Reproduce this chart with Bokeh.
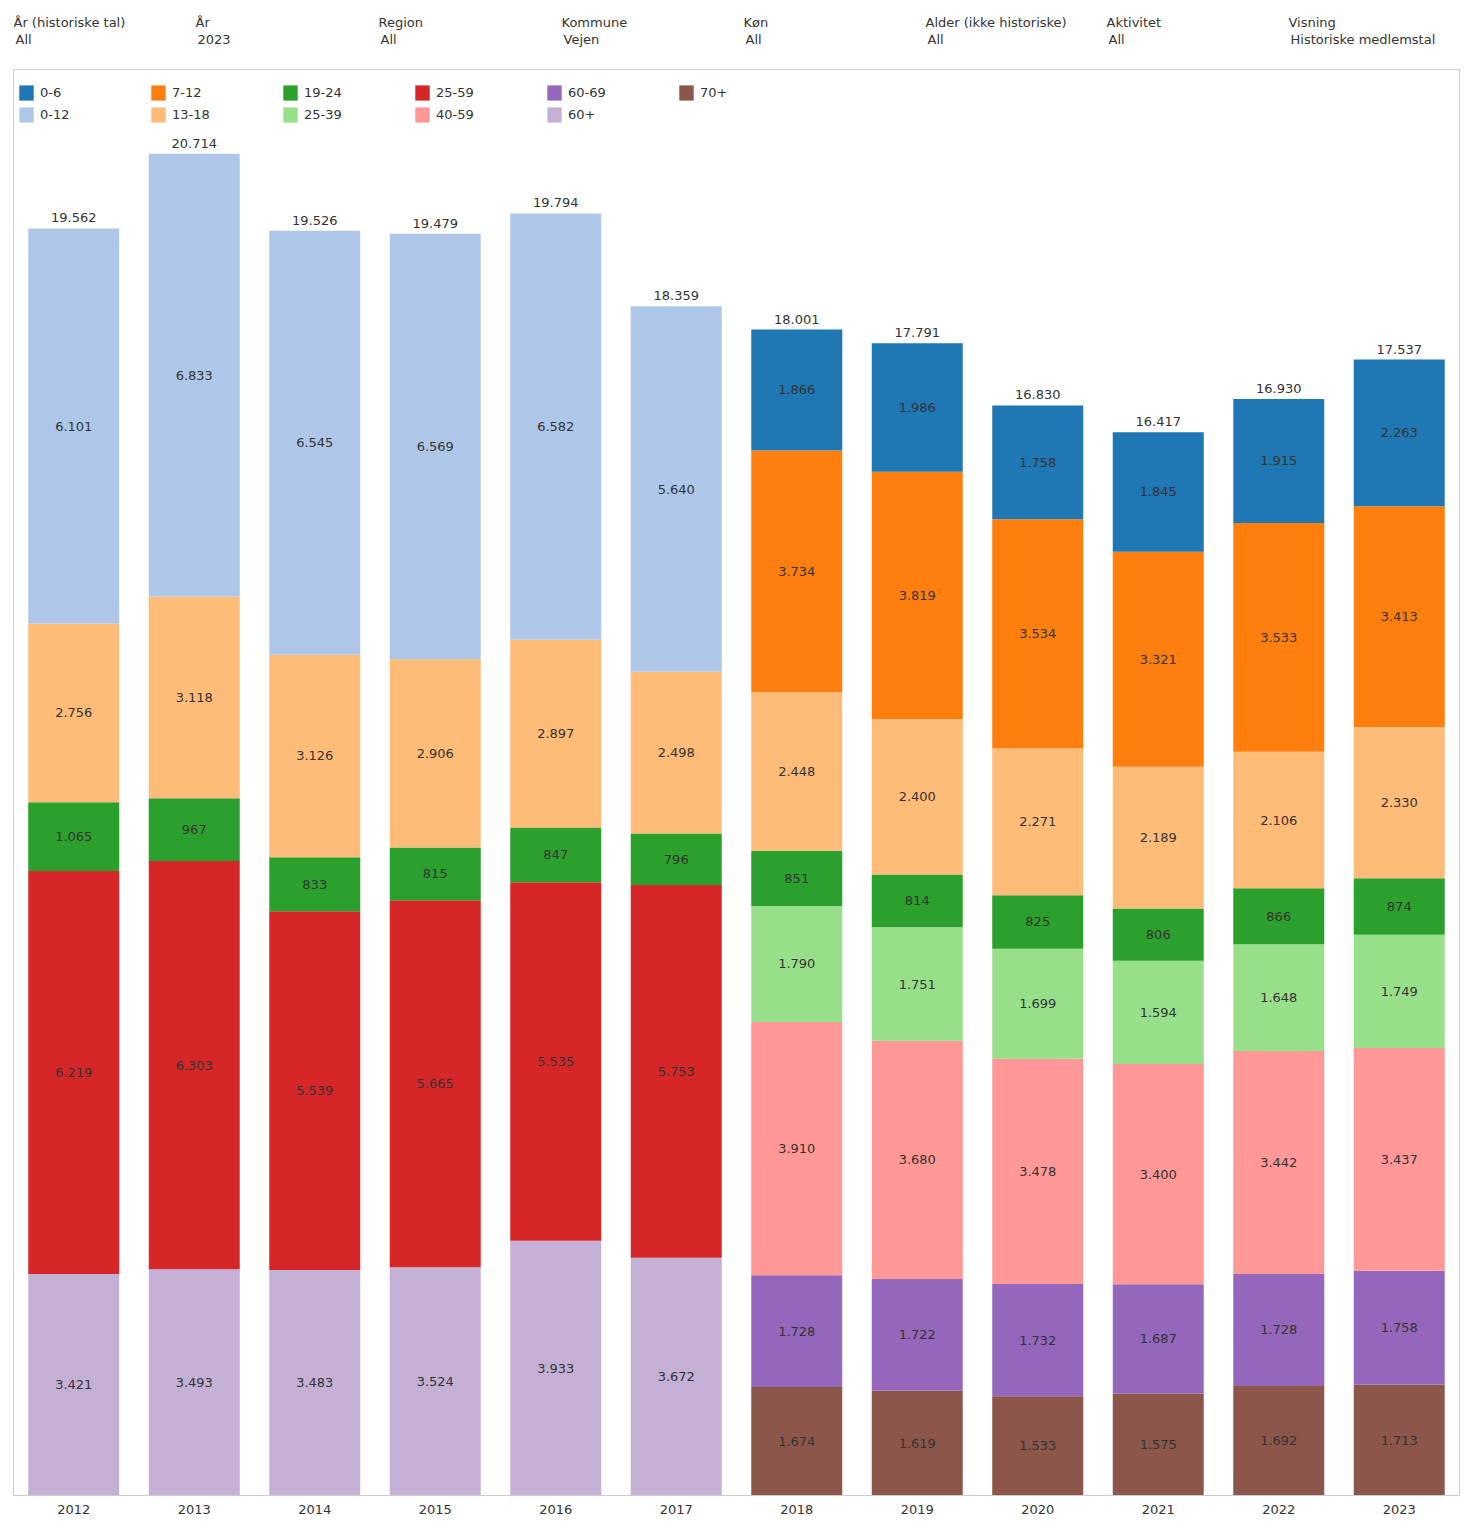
from bokeh.plotting import figure
from bokeh.models import ColumnDataSource, Range1d, FactorRange, Legend, LegendItem
from bokeh.layouts import column
from bokeh.core.properties import value
from bokeh.embed import file_html
from bokeh.resources import INLINE

years = ["2012", "2013", "2014", "2015", "2016", "2017",
         "2018", "2019", "2020", "2021", "2022", "2023"]

# series values (0 where the age group is not used that year)
s_70p   = [0, 0, 0, 0, 0, 0, 1674, 1619, 1533, 1575, 1692, 1713]
s_60_69 = [0, 0, 0, 0, 0, 0, 1728, 1722, 1732, 1687, 1728, 1758]
s_60p   = [3421, 3493, 3483, 3524, 3933, 3672, 0, 0, 0, 0, 0, 0]
s_40_59 = [0, 0, 0, 0, 0, 0, 3910, 3680, 3478, 3400, 3442, 3437]
s_25_39 = [0, 0, 0, 0, 0, 0, 1790, 1751, 1699, 1594, 1648, 1749]
s_25_59 = [6219, 6303, 5539, 5665, 5535, 5753, 0, 0, 0, 0, 0, 0]
s_19_24 = [1065, 967, 833, 815, 847, 796, 851, 814, 825, 806, 866, 874]
s_13_18 = [2756, 3118, 3126, 2906, 2897, 2498, 2448, 2400, 2271, 2189, 2106, 2330]
s_7_12  = [0, 0, 0, 0, 0, 0, 3734, 3819, 3534, 3321, 3533, 3413]
s_0_6   = [0, 0, 0, 0, 0, 0, 1866, 1986, 1758, 1845, 1915, 2263]
s_0_12  = [6101, 6833, 6545, 6569, 6582, 5640, 0, 0, 0, 0, 0, 0]

filter_titles = ["År (historiske tal)", "År", "Region", "Kommune", "Køn",
                 "Alder (ikke historiske)", "Aktivitet", "Visning"]
filter_values = ["All", "2023", "All", "Vejen", "All", "All", "All",
                 "Historiske medlemstal"]

# stacking order bottom -> top
stack_keys = ["70+", "60-69", "60+", "40-59", "25-39", "25-59",
              "19-24", "13-18", "7-12", "0-6", "0-12"]
stack_vals = [s_70p, s_60_69, s_60p, s_40_59, s_25_39, s_25_59,
              s_19_24, s_13_18, s_7_12, s_0_6, s_0_12]
colors = {"0-6": "#1f77b4", "0-12": "#aec7e8", "7-12": "#ff7f0e", "13-18": "#ffbb78",
          "19-24": "#2ca02c", "25-39": "#98df8a", "25-59": "#d62728", "40-59": "#ff9896",
          "60-69": "#9467bd", "60+": "#c5b0d5", "70+": "#8c564b"}
legend_order = ["0-6", "0-12", "7-12", "13-18", "19-24", "25-39",
                "25-59", "40-59", "60-69", "60+", "70+"]

FONT = "DejaVu Sans"
TXT = "#333333"


def fmt(v):
    return f"{v:,}".replace(",", ".")


data = {"year": years}
for k, v in zip(stack_keys, stack_vals):
    data[k] = v
src = ColumnDataSource(data)

# ---------- header (frame aligned with the chart frame: page x 13..1459) ----------
W = 1469
hdr = figure(width=W, height=69, x_range=Range1d(13, 1459), y_range=Range1d(69, 0),
             output_backend="svg", toolbar_location=None,
             min_border=0, outline_line_color=None)
hdr.axis.visible = False
hdr.grid.visible = False
hx = [13, 195, 378, 561, 743, 925, 1106, 1288]
hdr.text(x=hx, y=[22] * len(hx), text=filter_titles, text_font=value(FONT),
         text_font_size="13px", text_color=TXT, text_baseline="middle")
hdr.text(x=[x + 2 for x in hx], y=[39] * len(hx), text=filter_values, text_font=value(FONT),
         text_font_size="13px", text_color=TXT, text_baseline="middle")

# ---------- main chart ----------
p = figure(frame_width=1446, frame_height=1426, x_range=FactorRange(*years, range_padding=0),
           y_range=Range1d(0, 22016), output_backend="svg", toolbar_location=None,
           min_border_left=13, min_border_right=10, min_border_top=0, min_border_bottom=0,
           outline_line_color="#cccccc")
p.grid.visible = False
p.yaxis.visible = False
p.xaxis.axis_line_color = "#cccccc"
p.xaxis.major_tick_line_color = None
p.xaxis.minor_tick_line_color = None
p.xaxis.major_label_text_font = FONT
p.xaxis.major_label_text_font_size = "13px"
p.xaxis.major_label_text_color = TXT
p.xaxis.major_label_standoff = 3

renderers = p.vbar_stack(stack_keys, x="year", width=0.755, source=src,
                         color=[colors[k] for k in stack_keys], line_color=None)
rmap = dict(zip(stack_keys, renderers))

# segment labels
lx, ly, lt = [], [], []
for i, yr in enumerate(years):
    base = 0
    for k, v in zip(stack_keys, stack_vals):
        if v[i] > 0:
            lx.append(yr)
            ly.append(base + v[i] / 2)
            lt.append(fmt(v[i]))
        base += v[i]
p.text(x=lx, y=ly, text=lt, text_font=value(FONT), text_font_size="13px",
       text_color=TXT, text_align="center", text_baseline="middle")

totals = [sum(v[i] for v in stack_vals) for i in range(len(years))]
p.text(x=years, y=totals, text=[fmt(t) for t in totals], text_font=value(FONT),
       text_font_size="13px", text_color=TXT, text_align="center",
       text_baseline="bottom", y_offset=-6)

legend = Legend(items=[LegendItem(label=k, renderers=[rmap[k]]) for k in legend_order],
                orientation="vertical", nrows=2, location=(4, 1371), margin=0, padding=6,
                glyph_width=18, glyph_height=19, label_standoff=5, label_width=106,
                label_height=19, spacing=3, border_line_color=None,
                background_fill_alpha=0, label_text_font=FONT,
                label_text_font_size="13px", label_text_color=TXT)
p.add_layout(legend, "center")

layout = column(hdr, p)
open("out.html", "w").write(file_html(layout, INLINE))
